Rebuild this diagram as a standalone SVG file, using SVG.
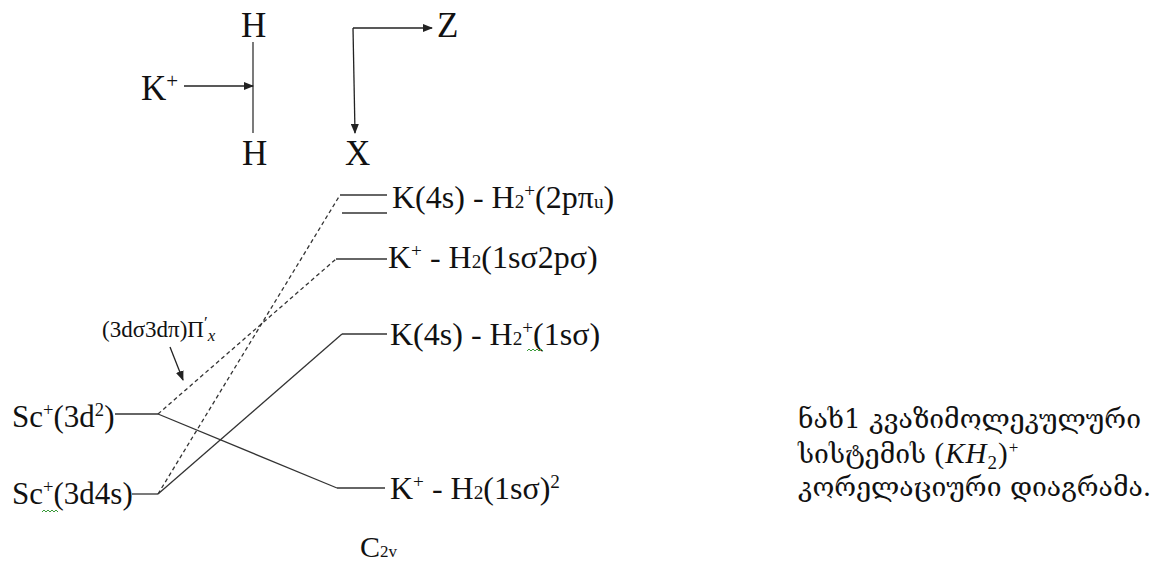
<svg xmlns="http://www.w3.org/2000/svg" width="1155" height="571" viewBox="0 0 1155 571">
<defs>
<marker id="ah" markerWidth="10" markerHeight="8" refX="9" refY="4" orient="auto" markerUnits="userSpaceOnUse">
<path d="M0,0 L10,4 L0,8 Z" fill="#222"/>
</marker>
<style>
.t{font-family:"Liberation Serif","Times New Roman",serif;fill:#111}
.big{font-size:35px}
.lab{font-size:32px}
.sc{font-size:31px}
.sm{font-size:60%}
.geo{font-family:"DejaVu Serif","DejaVu Sans",serif;font-size:26.5px;fill:#111}
.ln{stroke:#333;stroke-width:1.3;fill:none}
.dash{stroke:#333;stroke-width:1.3;fill:none;stroke-dasharray:4 3}
.arr{stroke:#222;stroke-width:1.3;fill:none;marker-end:url(#ah)}
.sq{stroke:#3a9a3a;stroke-width:1;fill:none}
</style>
</defs>
<rect width="1155" height="571" fill="#fff"/>

<g id="molecule">
<text class="t big" x="241" y="37">H</text>
<text class="t big" x="242" y="165">H</text>
<text class="t big" x="141" y="100">K<tspan class="sm" dy="-12">+</tspan></text>
<line class="ln" x1="253" y1="42" x2="253" y2="133"/>
<line class="arr" x1="184" y1="86" x2="253" y2="86"/>
</g>

<g id="axes">
<path class="arr" d="M353,28 L432,28"/>
<path class="arr" d="M353,28 L355,133"/>
<text class="t big" x="437" y="37">Z</text>
<text class="t big" x="345" y="165">X</text>
</g>

<g id="levels">
<g id="sc-3d2">
<text class="t sc" x="12" y="427">Sc<tspan class="sm" dy="-11">+</tspan><tspan dy="11">(3d</tspan><tspan class="sm" dy="-11">2</tspan><tspan dy="11">)</tspan></text>
<line class="ln" x1="115" y1="414" x2="158" y2="414"/>
</g>
<g id="sc-3d4s">
<text class="t sc" x="12" y="504">Sc<tspan class="sm" dy="-11">+</tspan><tspan dy="11">(3d4s)</tspan></text>
<path class="sq" d="M42,512 l2,-2 l2,2 l2,-2 l2,2 l2,-2 l2,2 l2,-2 l2,2"/>
<line class="ln" x1="132" y1="494" x2="158" y2="494"/>
</g>
<g id="k4s-2ppi">
<line class="ln" x1="340" y1="195" x2="387" y2="195"/>
<line class="ln" x1="342" y1="213" x2="387" y2="213"/>
<text class="t lab" x="392" y="208">K(4s) - H<tspan class="sm">2</tspan><tspan class="sm" dy="-11">+</tspan><tspan dy="11">(2pπ</tspan><tspan class="sm">u</tspan><tspan>)</tspan></text>
</g>
<g id="k-1s2p">
<line class="ln" x1="336" y1="259" x2="387" y2="259"/>
<text class="t lab" x="388" y="268">K<tspan class="sm" dy="-11">+</tspan><tspan dy="11"> - H</tspan><tspan class="sm">2</tspan><tspan>(1sσ2pσ)</tspan></text>
</g>
<g id="k4s-1s">
<line class="ln" x1="342" y1="334" x2="387" y2="334"/>
<text class="t lab" x="390" y="345">K(4s) - H<tspan class="sm">2</tspan><tspan class="sm" dy="-11">+</tspan><tspan dy="11">(1sσ)</tspan></text>
<path class="sq" d="M527,351 l2,-2 l2,2 l2,-2 l2,2 l2,-2 l2,2 l2,-2 l2,2"/>
</g>
<g id="k-1s2">
<line class="ln" x1="337" y1="488" x2="385" y2="488"/>
<text class="t lab" x="390" y="499">K<tspan class="sm" dy="-11">+</tspan><tspan dy="11"> - H</tspan><tspan class="sm">2</tspan><tspan>(1sσ)</tspan><tspan class="sm" dy="-11">2</tspan></text>
</g>
</g>

<g id="connectors">
<line class="dash" x1="158" y1="414" x2="336" y2="259"/>
<line class="ln" x1="158" y1="414" x2="337" y2="488"/>
<line class="ln" x1="158" y1="494" x2="342" y2="334"/>
<line class="dash" x1="158" y1="494" x2="340" y2="195"/>
<line class="arr" x1="170" y1="347" x2="183" y2="380"/>
</g>

<g id="pi-label">
<text class="t" font-size="23" x="102" y="337">(3dσ3dπ)Π<tspan font-size="17" dy="-9">′</tspan><tspan font-size="17" font-style="italic" dy="13">x</tspan></text>
</g>

<g id="c2v">
<text class="t" font-size="30" x="360" y="557">C<tspan font-size="17">2v</tspan></text>
</g>

<g id="caption">
<text class="geo" x="798" y="428">ნახ1  კვაზიმოლეკულური</text>
<text class="geo" x="798" y="463">სისტემის <tspan font-family="Liberation Serif" font-size="29" letter-spacing="1">(<tspan font-style="italic">KH</tspan><tspan font-size="19" dy="6">2</tspan><tspan dy="-6">)</tspan><tspan font-size="17" dy="-10">+</tspan></tspan></text>
<text class="geo" x="798" y="496">კორელაციური დიაგრამა.</text>
</g>
</svg>
